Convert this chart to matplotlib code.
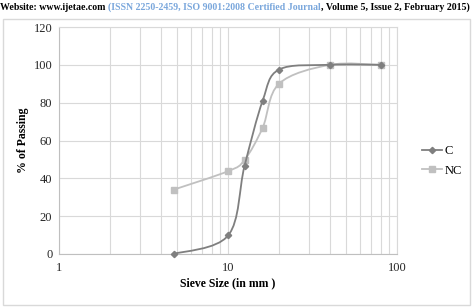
import numpy as np
import matplotlib.pyplot as plt
from matplotlib.path import Path
from matplotlib.patches import PathPatch, Rectangle
from matplotlib.lines import Line2D

plt.rcParams["font.family"] = ["Liberation Serif", "DejaVu Serif"]

# données
sieve_mm = [4.75, 10, 12.5, 16, 20, 40, 80]
passing_c = [0, 9.8, 46.5, 81, 97.5, 100, 100]
passing_nc = [34, 43.8, 49.7, 66.7, 90, 100, 100]
series_names = ["C", "NC"]

GRID = "#d9d9d9"
C_COL = "#7f7f7f"
NC_COL = "#c0c0c0"


def smooth_path(xs, ys):
    # courbe lissée façon Excel (Catmull-Rom) en espace log-x
    lx = np.log10(xs)
    ys = np.asarray(ys, float)
    n = len(lx)
    verts = [(xs[0], ys[0])]
    codes = [Path.MOVETO]
    for i in range(n - 1):
        i0 = max(i - 1, 0)
        i3 = min(i + 2, n - 1)
        c1 = (lx[i] + (lx[i + 1] - lx[i0]) / 6, ys[i] + (ys[i + 1] - ys[i0]) / 6)
        c2 = (lx[i + 1] - (lx[i3] - lx[i]) / 6, ys[i + 1] - (ys[i3] - ys[i]) / 6)
        verts += [(10 ** c1[0], c1[1]), (10 ** c2[0], c2[1]), (xs[i + 1], ys[i + 1])]
        codes += [Path.CURVE4] * 3
    return Path(verts, codes)


fig = plt.figure(figsize=(4.74, 3.07), dpi=100)

# cadre du graphique
fig.patches.append(Rectangle((3 / 474, 2 / 307), 467 / 474, 286 / 307,
                             transform=fig.transFigure, fill=False,
                             ec=GRID, lw=1.0))

ax = fig.add_axes([59.3 / 474, 1 - 254 / 307, (397 - 59.3) / 474, (254 - 27) / 307])

# en-tête (trois morceaux enchaînés)
HSIZE = 7.1
t1 = fig.text(0.0, 1 - 8 / 307, "Website: www.ijetae.com ", fontsize=HSIZE,
              fontweight="bold", va="center", ha="left")
t2 = ax.annotate("(ISSN 2250-2459, ISO 9001:2008 Certified Journal",
                 xy=(1, 0), xycoords=t1, va="bottom", ha="left",
                 fontsize=HSIZE, fontweight="bold", color="#7aa7dc",
                 annotation_clip=False)
ax.annotate(", Volume 5, Issue 2, February 2015)",
            xy=(1, 0), xycoords=t2, va="bottom", ha="left",
            fontsize=HSIZE, fontweight="bold", annotation_clip=False)

ax.set_xscale("log")
ax.set_xlim(1, 100)
ax.set_ylim(0, 120)
ax.set_yticks(range(0, 121, 20))
ax.set_xticks([1, 10, 100])
ax.set_xticklabels(["1", "10", "100"])
ax.tick_params(axis="both", which="both", length=0, labelsize=9,
               colors="#262626")
ax.tick_params(axis="x", pad=6)
ax.tick_params(axis="y", pad=5)
ax.minorticks_on()
ax.yaxis.set_minor_locator(plt.NullLocator())
ax.xaxis.set_minor_formatter(plt.NullFormatter())
ax.grid(True, which="both", axis="x", color=GRID, lw=0.8)
ax.grid(True, which="major", axis="y", color=GRID, lw=0.8)
ax.set_axisbelow(True)
for s in ax.spines.values():
    s.set_color(GRID)
    s.set_linewidth(0.8)
ax.spines["left"].set_color("#bfbfbf")
ax.spines["bottom"].set_color("#bfbfbf")

ax.add_patch(PathPatch(smooth_path(sieve_mm, passing_nc), fill=False,
                       ec=NC_COL, lw=1.3, zorder=3))
ax.plot(sieve_mm, passing_nc, ls="none", marker="s", ms=4.5, color=NC_COL,
        zorder=4, clip_on=False)
ax.add_patch(PathPatch(smooth_path(sieve_mm, passing_c), fill=False,
                       ec=C_COL, lw=1.3, zorder=5))
ax.plot(sieve_mm, passing_c, ls="none", marker="D", ms=3.2, color=C_COL,
        zorder=6, clip_on=False)

ax.set_xlabel("Sieve Size (in mm )", fontsize=8.5, fontweight="bold", labelpad=2)
ax.set_ylabel("% of Passing", fontsize=8.5, fontweight="bold", labelpad=3)

handles = [Line2D([], [], color=C_COL, marker="D", ms=3.2, lw=1.3),
           Line2D([], [], color=NC_COL, marker="s", ms=4.5, lw=1.3)]
fig.legend(handles, series_names, loc="center left",
           bbox_to_anchor=(411 / 474, 1 - 161 / 307), frameon=False,
           fontsize=9, handlelength=1.6, handletextpad=0.2, labelspacing=0.6)

fig.savefig("out.png", dpi=100)
